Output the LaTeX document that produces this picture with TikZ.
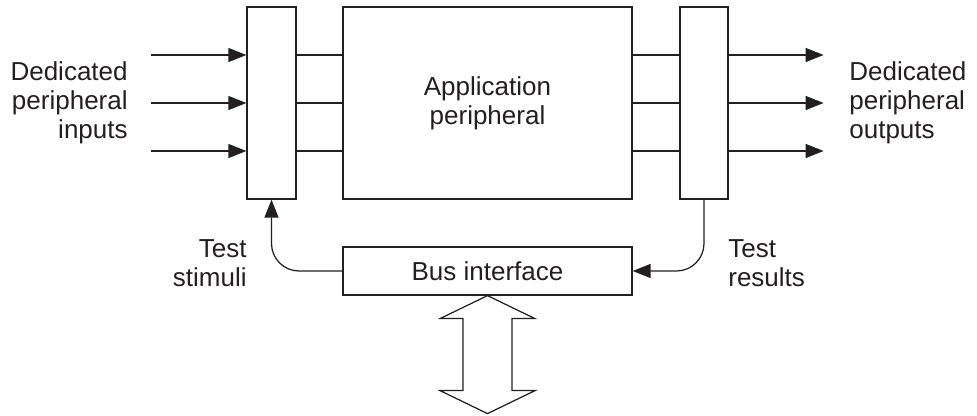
\documentclass[tikz,border=0pt]{standalone}
\usepackage{fontspec}
\setmainfont{Liberation Sans}
\usetikzlibrary{arrows.meta,calc}
\definecolor{cInk}{HTML}{231F20}

\begin{document}
\begin{tikzpicture}[
  font=\fontsize{14.8}{16.5}\selectfont,
  blk/.style={draw=cInk, line width=.7pt, align=center, text=cInk, inner sep=0pt},
  flow/.style={-{Triangle[length=3.6mm,width=2.8mm]}, line width=.7pt, draw=cInk},
  wire/.style={line width=.7pt, draw=cInk},
  route/.style={-{Triangle[length=3.6mm,width=2.8mm]}, line width=.7pt, draw=cInk,
                rounded corners=5.5mm},
  lbl/.style={text=cInk, inner sep=0pt},
  hollow/.style={draw=cInk, fill=white, line width=.7pt, line join=miter},
]
\useasboundingbox (0,0) rectangle (19.54,8.32);

% ---------------- blocks ----------------
\node[blk, minimum width=0.98cm, minimum height=3.84cm] (tin) at (5.43,6.26) {};
\node[blk, minimum width=5.78cm, minimum height=3.84cm] (app) at (9.75,6.26)
  {Application\\peripheral};
\node[blk, minimum width=0.96cm, minimum height=3.84cm] (tout) at (14.08,6.26) {};
\node[blk, minimum width=5.78cm, minimum height=0.96cm] (bus) at (9.75,2.90)
  {Bus interface};

% ---------------- dedicated lines ----------------
\foreach \d in {0.96,0,-0.96}{
  \draw[flow] ($(tin.west)+(-1.90,\d)$) -- ($(tin.west)+(0,\d)$);
  \draw[wire] ($(tin.east)+(0,\d)$) -- ($(app.west)+(0,\d)$);
  \draw[wire] ($(app.east)+(0,\d)$) -- ($(tout.west)+(0,\d)$);
  \draw[flow] ($(tout.east)+(0,\d)$) -- ($(tout.east)+(1.90,\d)$);}

\node[lbl, anchor=east, align=right] (inLbl) at (2.56,6.26)
  {Dedicated\\peripheral\\inputs};
\node[lbl, anchor=west, align=left] (outLbl) at (16.98,6.26)
  {Dedicated\\peripheral\\outputs};

% ---------------- test paths ----------------
\draw[route] (bus.west) -| (tin.south);
\draw[route] (tout.south) |- (bus.east);
\node[lbl, anchor=east, align=right] (stimLbl) at (4.94,3.05) {Test\\stimuli};
\node[lbl, anchor=west, align=left] (resLbl) at (14.56,3.05) {Test\\results};

% ---------------- bus ----------------
\draw[hollow] (bus.south) -- ++(0.95,-0.46) -- ++(-0.46,0) -- ++(0,-1.44)
  -- ++(0.46,0) -- ++(-0.95,-0.46) -- ++(-0.95,0.46) -- ++(0.46,0)
  -- ++(0,1.44) -- ++(-0.46,0) -- cycle;

\end{tikzpicture}
\end{document}
